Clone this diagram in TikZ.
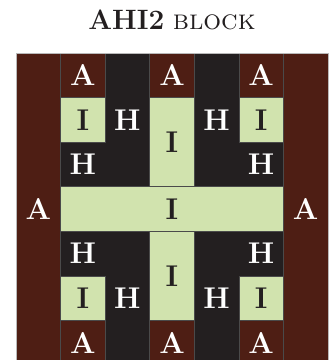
\documentclass[tikz,border=0pt]{standalone}
\usepackage{xcolor}
\usetikzlibrary{positioning}

\definecolor{ahimaroon}{HTML}{4E1E14}
\definecolor{ahidark}{HTML}{231F20}
\definecolor{ahigreen}{HTML}{D1E3AE}
\definecolor{ahiline}{HTML}{4A4A4A}
\def\cell{44.57pt}

\tikzset{
    piece/.style={draw=ahiline, line width=0.6pt, inner sep=0pt, outer sep=0pt,
        minimum width=\cell, minimum height=\cell, font=\bfseries\fontsize{30}{30}\selectfont},
    apiece/.style={piece, fill=ahimaroon, text=white},
    ipiece/.style={piece, fill=ahigreen, text=ahidark},
    hlabel/.style={inner sep=0pt, text=white, font=\bfseries\fontsize{30}{30}\selectfont}
}

\begin{document}
\begin{tikzpicture}[x=\cell, y=-\cell]
    \useasboundingbox (-0.359,-1.189) rectangle (7.135,6.888);
    \node[anchor=base, text=ahidark, font=\fontsize{28}{28}\selectfont] (title)
        at (3.5,-0.516) {\textbf{AHI2} \textsc{block}};
    \fill[ahidark] (0,0) rectangle (7,7);
    % side A strips
    \node[apiece, minimum height=7*\cell] (aleft) at (0.5,3.5) {A};
    \node[apiece, minimum height=7*\cell] (aright) at (6.5,3.5) {A};
    % top and bottom A squares
    \foreach \c in {1,3,5} {
        \node[apiece] (atop\c) at (\c+0.5,0.5) {A};
        \node[apiece] (abot\c) at (\c+0.5,6.5) {A};
    }
    % I pieces
    \foreach \c in {1,5} {
        \node[ipiece] (itop\c) at (\c+0.5,1.5) {I};
        \node[ipiece] (ibot\c) at (\c+0.5,5.5) {I};
    }
    \node[ipiece, minimum height=2*\cell] (iup) at (3.5,2) {I};
    \node[ipiece, minimum height=2*\cell] (idown) at (3.5,5) {I};
    \node[ipiece, minimum width=5*\cell] (imid) at (3.5,3.5) {I};
    % H labels on the dark ground
    \node[hlabel] (h1) at (2.5,1.5) {H};
    \node[hlabel] (h2) at (1.5,2.5) {H};
    \node[hlabel] (h3) at (4.5,1.5) {H};
    \node[hlabel] (h4) at (5.5,2.5) {H};
    \node[hlabel] (h5) at (1.5,4.5) {H};
    \node[hlabel] (h6) at (2.5,5.5) {H};
    \node[hlabel] (h7) at (4.5,5.5) {H};
    \node[hlabel] (h8) at (5.5,4.5) {H};
    \draw[gray!55, line width=0.8pt] (0,0) rectangle (7,7);
\end{tikzpicture}
\end{document}
